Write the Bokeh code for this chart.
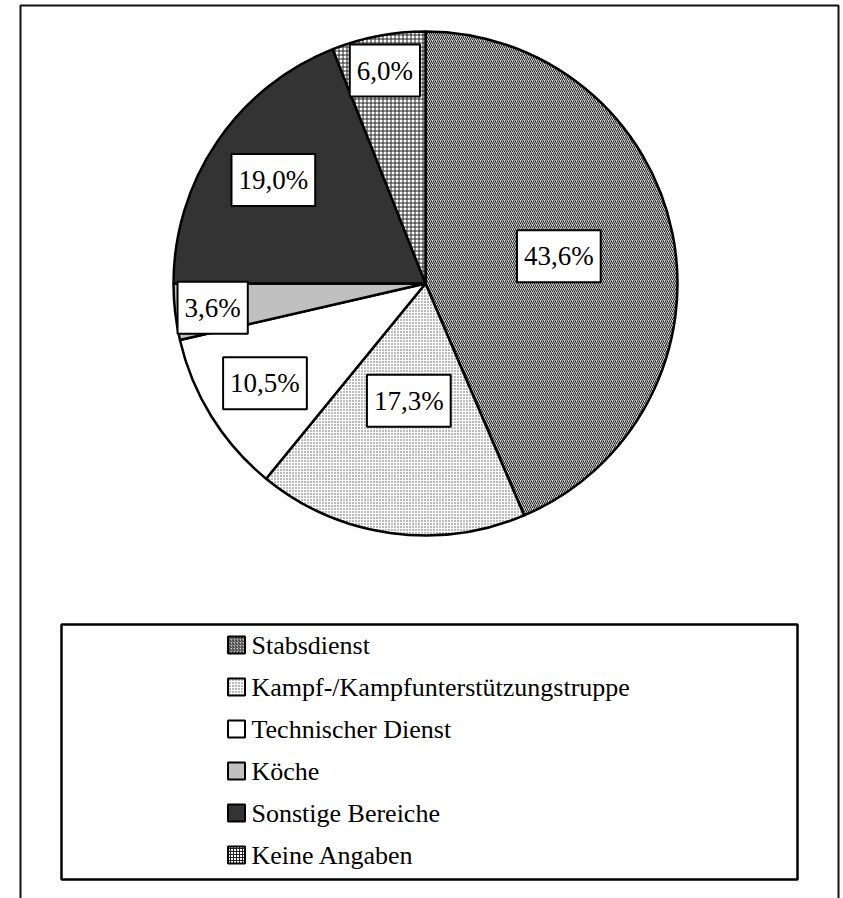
import math
from bokeh.plotting import figure
from bokeh.models import Range1d, Label, ColumnDataSource
from bokeh.core.properties import value
from bokeh.embed import file_html
from bokeh.resources import INLINE

# ---- data ----
categories = ["Stabsdienst", "Kampf-/Kampfunterstützungstruppe", "Technischer Dienst",
              "Köche", "Sonstige Bereiche", "Keine Angaben"]
shares = [43.6, 17.3, 10.5, 3.6, 19.0, 6.0]

# ---- styles ----
fill_colors = ["#cccccc", "white", "white", "#c0c0c0", "#333333", "white"]
hatch_patterns = ["/", "dot", "blank", "blank", "blank", "+"]
hatch_colors = ["#222222", "#555555", "black", "black", "black", "#222222"]
hatch_scales = [4, 3, 4, 4, 4, 4]
label_radius_frac = [0.54, 0.47, 0.75, 0.85, 0.73, 0.86]

FONT = "Liberation Serif"
W, H = 843, 898
cx, cy, R = 425, 283, 252

p = figure(width=W, height=H, x_range=Range1d(0, W), y_range=Range1d(-H, 0),
           output_backend="svg", toolbar_location=None, min_border=0,
           x_axis_location=None, y_axis_location=None)
p.grid.visible = False
p.outline_line_color = None
p.background_fill_color = "white"
p.border_fill_color = "white"

# outer frame
p.line(x=[20, 20, 838, 838], y=[-1000, -5, -5, -1000], line_color="#111111", line_width=2)

# pie
cum = 0.0
for i, s in enumerate(shares):
    a0 = math.pi / 2 - 2 * math.pi * cum / 100.0
    a1 = math.pi / 2 - 2 * math.pi * (cum + s) / 100.0
    p.wedge(x=cx, y=-cy, radius=R, start_angle=a0, end_angle=a1, direction="clock",
            fill_color=fill_colors[i], hatch_pattern=hatch_patterns[i],
            hatch_color=hatch_colors[i], hatch_scale=hatch_scales[i], hatch_weight=1,
            line_color="black", line_width=2.5)
    mid = math.pi / 2 - 2 * math.pi * (cum + s / 2) / 100.0
    r = label_radius_frac[i] * R
    lx = cx + r * math.cos(mid)
    ly = -cy + r * math.sin(mid)
    txt = f"{s:.1f}".replace(".", ",") + "%"
    p.add_layout(Label(x=lx, y=ly, text=txt, text_align="center", text_baseline="middle",
                       text_font=FONT, text_font_size="27px", text_color="black",
                       background_fill_color="white", border_line_color="black",
                       border_line_width=2, padding=(7, 11)))
    cum += s

# legend box
p.quad(left=61, right=797, top=-624, bottom=-879, fill_color=None,
       line_color="black", line_width=2.5)

row_gap = 42
for i, c in enumerate(categories):
    yc = -(644.5 + row_gap * i)
    p.rect(x=236, y=yc, width=17, height=17, fill_color=fill_colors[i],
           hatch_pattern=hatch_patterns[i], hatch_color=hatch_colors[i],
           hatch_scale=3, hatch_weight=1, line_color="black", line_width=2)

src = ColumnDataSource(dict(x=[251] * len(categories),
                            y=[-(644.5 + row_gap * i) for i in range(len(categories))],
                            t=categories))
p.text(x="x", y="y", text="t", source=src, text_font=value(FONT), text_font_size="26px",
       text_baseline="middle", text_align="left", text_color="black")

open("out.html", "w").write(file_html(p, INLINE))
